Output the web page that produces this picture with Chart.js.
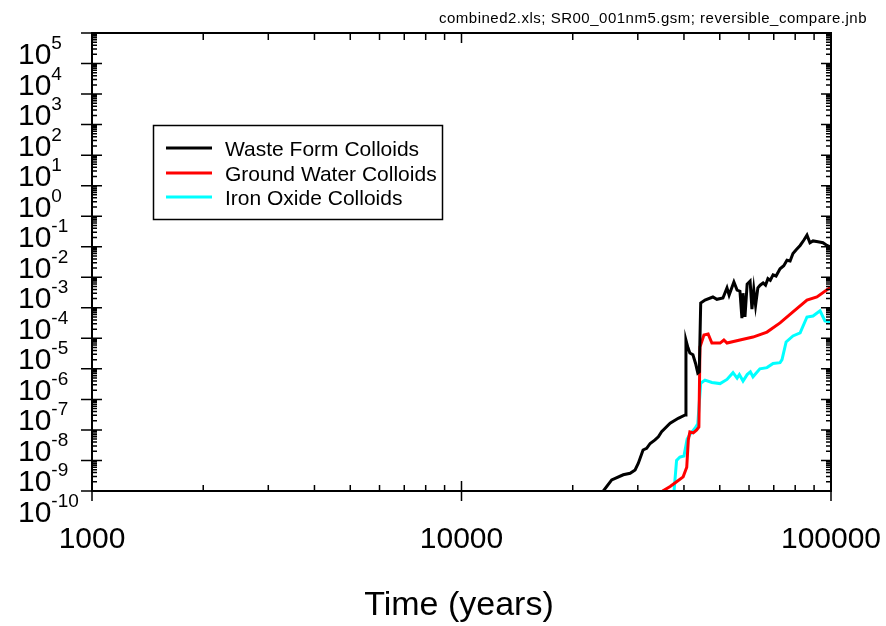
<!DOCTYPE html>
<html>
<head>
<meta charset="utf-8">
<title>Colloid concentrations</title>
<script src="https://cdn.jsdelivr.net/npm/chart.js@4"></script>
<style>
  body { margin: 0; background: #fff; }
  canvas { display: block; }
</style>
</head>
<body>
<canvas id="myChart" width="886" height="626"></canvas>
<script>
// time (years) and concentration for each colloid type
var wasteYears = [24200, 25500, 27400, 28600, 29500, 30100, 31000, 31700, 32400, 33400, 34100, 34800, 36700, 38600, 40300,
    40500, 41000, 41500, 42300, 43000, 43600, 44000, 44400, 45600, 47900, 49100, 51000, 52300, 53000, 54600, 55700,
    56700, 57400, 57800, 58500, 59300, 60400, 61100, 61800, 62500, 63400, 64300, 65500, 66500, 67500, 68500, 69700,
    71000, 72800, 74500, 76000, 77500, 78900, 80500, 82500, 84300, 86100, 87700, 89400, 92200, 95100, 97500, 100000];
var wasteConc = [1.0e-10, 2.3e-10, 3.4e-10, 3.8e-10, 4.9e-10, 8.1e-10, 2.2e-9, 2.5e-9, 3.6e-9, 4.7e-9, 6.0e-9, 8.8e-9, 1.65e-8, 2.4e-8, 3.1e-8,
    8.8e-6, 5.0e-6, 3.3e-6, 2.9e-6, 1.5e-6, 7.3e-7, 8.0e-7, 1.44e-4, 1.8e-4, 2.26e-4, 1.9e-4, 2.1e-4, 4.5e-4, 2.6e-4, 7.0e-4, 3.8e-4,
    3.5e-4, 4.6e-5, 3.0e-4, 5.0e-5, 6.0e-4, 7.5e-4, 9.0e-5, 4.0e-4, 1.2e-4, 4.5e-4, 5.5e-4, 6.5e-4, 5.5e-4, 9.0e-4, 8.0e-4, 1.2e-3,
    1.1e-3, 1.9e-3, 2.4e-3, 3.6e-3, 3.4e-3, 6.0e-3, 8.0e-3, 1.1e-2, 1.6e-2, 2.4e-2, 1.35e-2, 1.55e-2, 1.45e-2, 1.35e-2, 1.1e-2, 9.8e-3];

var groundYears = [35000, 36700, 38200, 39800, 40700, 41100, 41500, 42400, 43300, 43900, 44200, 45300, 46500, 47600, 50100,
    51300, 52300, 56700, 61500, 67100, 72800, 78900, 86100, 91600, 100000];
var groundConc = [1.0e-10, 1.4e-10, 2.0e-10, 2.9e-10, 6.0e-10, 4.7e-9, 8.6e-9, 8.0e-9, 1.0e-8, 1.25e-8, 5.2e-6, 1.29e-5, 1.39e-5, 7.0e-6, 7.0e-6,
    8.8e-6, 7.0e-6, 8.8e-6, 1.1e-5, 1.6e-5, 3.2e-5, 7.3e-5, 1.8e-4, 2.26e-4, 4.8e-4];

var ironYears = [37600, 38200, 39000, 40000, 40800, 41500, 42900, 43600, 44400, 45600, 47600, 50100, 52300, 54300, 55700,
    56500, 57800, 59300, 60500, 61500, 64200, 67100, 69700, 72800, 73700, 75600, 78900, 82500, 86100, 89400, 93400, 96300, 100000];
var ironConc = [1.0e-10, 1.0e-9, 1.3e-9, 1.4e-9, 5.0e-9, 7.0e-9, 1.16e-8, 1.6e-8, 3.4e-7, 4.3e-7, 3.6e-7, 3.3e-7, 4.5e-7, 7.5e-7, 5.0e-7,
    6.5e-7, 4.0e-7, 6.5e-7, 8.0e-7, 5.5e-7, 1.0e-6, 1.1e-6, 1.5e-6, 1.6e-6, 2.0e-6, 7.6e-6, 1.2e-5, 1.5e-5, 5.0e-5, 5.4e-5, 8.0e-5, 3.7e-5, 3.4e-5];

var seriesNames = ['Waste Form Colloids', 'Ground Water Colloids', 'Iron Oxide Colloids'];
var seriesColors = ['#000000', '#ff0000', '#00ffff'];

var xTickLabels = ['1000', '10000', '100000'];
var yExponents = [5, 4, 3, 2, 1, 0, -1, -2, -3, -4, -5, -6, -7, -8, -9, -10];

var FONT = '"Liberation Sans", Arial, Helvetica, sans-serif';

function toPoints(xs, ys) {
    return xs.map(function(x, i) { return { x: x, y: ys[i] }; });
}

// frame, inward ticks, superscript labels, boxed legend and notes
var framePlugin = {
    id: 'framePlugin',
    afterDatasetsDraw: function(chart) {
        var ctx = chart.ctx;
        var a = chart.chartArea;
        var xs = chart.scales.x, ys = chart.scales.y;
        ctx.save();
        ctx.strokeStyle = '#000';
        ctx.fillStyle = '#000';

        ctx.lineWidth = 2;
        ctx.strokeRect(a.left, a.top, a.right - a.left, a.bottom - a.top);

        ctx.lineWidth = 1.5;
        ctx.beginPath();
        for (var i = 0; i < yExponents.length; i++) {
            var e = yExponents[i];
            var py = ys.getPixelForValue(Math.pow(10, e));
            ctx.moveTo(a.left - 11, py); ctx.lineTo(a.left + 10, py);
            ctx.moveTo(a.right, py); ctx.lineTo(a.right - 10, py);
            if (e > yExponents[yExponents.length - 1]) {
                for (var m = 2; m <= 9; m++) {
                    var my = ys.getPixelForValue(m * Math.pow(10, e - 1));
                    ctx.moveTo(a.left, my); ctx.lineTo(a.left + 5, my);
                    ctx.moveTo(a.right, my); ctx.lineTo(a.right - 5, my);
                }
            }
        }
        for (var k = 0; k < xTickLabels.length; k++) {
            var dec = Number(xTickLabels[k]);
            var px = xs.getPixelForValue(dec);
            ctx.moveTo(px, a.bottom + 10); ctx.lineTo(px, a.bottom - 10);
            ctx.moveTo(px, a.top); ctx.lineTo(px, a.top + 10);
            if (k < xTickLabels.length - 1) {
                for (var n = 2; n <= 9; n++) {
                    var mx = xs.getPixelForValue(n * dec);
                    ctx.moveTo(mx, a.bottom); ctx.lineTo(mx, a.bottom - 6);
                    ctx.moveTo(mx, a.top); ctx.lineTo(mx, a.top + 7);
                }
            }
        }
        ctx.stroke();

        // y labels as 10 with superscript exponent
        ctx.textAlign = 'left';
        ctx.textBaseline = 'alphabetic';
        for (var j = 0; j < yExponents.length; j++) {
            var ty = ys.getPixelForValue(Math.pow(10, yExponents[j]));
            ctx.font = '30px ' + FONT;
            ctx.fillText('10', 18, ty + 31);
            var w = ctx.measureText('10').width;
            ctx.font = '19px ' + FONT;
            ctx.fillText(String(yExponents[j]), 18 + w, ty + 16);
        }

        // x labels
        ctx.font = '30px ' + FONT;
        ctx.textAlign = 'center';
        for (var q = 0; q < xTickLabels.length; q++) {
            ctx.fillText(xTickLabels[q], xs.getPixelForValue(Number(xTickLabels[q])), 548);
        }
        ctx.font = '34px ' + FONT;
        ctx.fillText('Time (years)', 459, 615);

        ctx.font = '15px ' + FONT;
        ctx.textAlign = 'right';
        ctx.letterSpacing = '0.5px';
        ctx.fillText('combined2.xls; SR00_001nm5.gsm; reversible_compare.jnb', 867, 23);
        ctx.letterSpacing = '0px';

        // legend box
        ctx.lineWidth = 1.5;
        ctx.strokeRect(153.5, 125.5, 289, 94);
        ctx.textAlign = 'left';
        ctx.font = '21px ' + FONT;
        var rows = [148, 173, 197];
        for (var r = 0; r < seriesNames.length; r++) {
            ctx.strokeStyle = seriesColors[r];
            ctx.lineWidth = 3;
            ctx.beginPath();
            ctx.moveTo(166, rows[r]); ctx.lineTo(212, rows[r]);
            ctx.stroke();
            ctx.fillText(seriesNames[r], 225, rows[r] + 8);
        }
        ctx.restore();
    }
};

var ctx = document.getElementById('myChart').getContext('2d');
var myChart = new Chart(ctx, {
    type: 'line',
    data: {
        datasets: [{
            label: seriesNames[0],
            data: toPoints(wasteYears, wasteConc),
            borderColor: seriesColors[0]
        }, {
            label: seriesNames[1],
            data: toPoints(groundYears, groundConc),
            borderColor: seriesColors[1]
        }, {
            label: seriesNames[2],
            data: toPoints(ironYears, ironConc),
            borderColor: seriesColors[2]
        }]
    },
    options: {
        responsive: false,
        animation: false,
        layout: { padding: { left: 92, top: 33, right: 55, bottom: 135 } },
        elements: {
            point: { radius: 0 },
            line: { borderWidth: 3, tension: 0, fill: false }
        },
        scales: {
            x: { type: 'logarithmic', min: 1000, max: 100000, display: false },
            y: { type: 'logarithmic', min: 1e-10, max: 1e5, display: false }
        },
        plugins: {
            legend: { display: false },
            tooltip: { enabled: false }
        }
    },
    plugins: [framePlugin]
});
</script>
</body>
</html>
